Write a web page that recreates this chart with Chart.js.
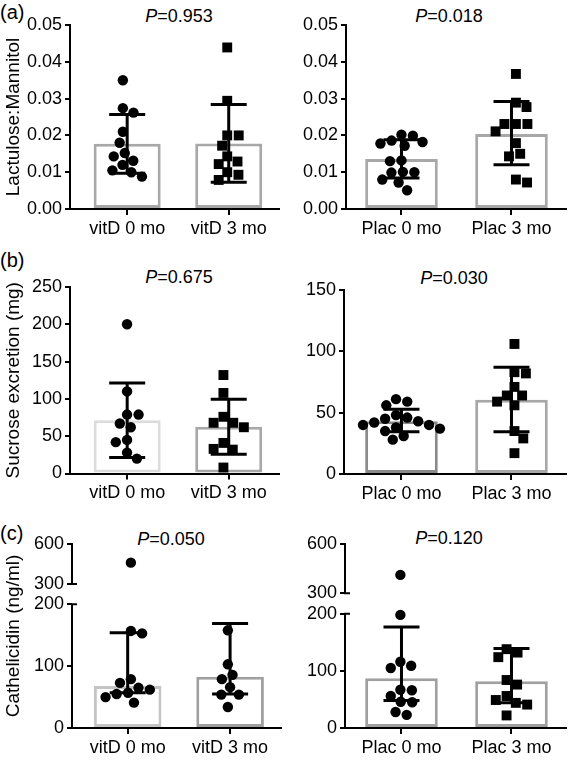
<!DOCTYPE html>
<html><head><meta charset="utf-8">
<script src="https://cdn.jsdelivr.net/npm/chart.js@4/dist/chart.umd.min.js"></script>
<style>
body{margin:0;background:#fff;width:573px;height:766px;position:relative;overflow:hidden;font-family:"Liberation Sans",Arial,sans-serif;color:#000;}
canvas{position:absolute;}
.lbl{position:absolute;font-size:20px;line-height:20px;}
.pv{position:absolute;font-size:18px;line-height:18px;transform:translate(-50%,-50%);white-space:nowrap;}
</style></head><body>
<div class="lbl" style="left:0;top:2px">(a)</div>
<div class="lbl" style="left:0;top:250px">(b)</div>
<div class="lbl" style="left:0;top:523px">(c)</div>
<div class="pv" style="left:179px;top:16px"><i>P</i>=0.953</div>
<div class="pv" style="left:449px;top:16px"><i>P</i>=0.018</div>
<div class="pv" style="left:179px;top:277px"><i>P</i>=0.675</div>
<div class="pv" style="left:454px;top:278px"><i>P</i>=0.030</div>
<div class="pv" style="left:171px;top:539px"><i>P</i>=0.050</div>
<div class="pv" style="left:449px;top:538px"><i>P</i>=0.120</div>
<canvas id="aL" width="286" height="250" style="left:0;top:0"></canvas>
<canvas id="aR" width="287" height="250" style="left:286px;top:0"></canvas>
<canvas id="bL" width="286" height="255" style="left:0;top:250px"></canvas>
<canvas id="bR" width="287" height="255" style="left:286px;top:250px"></canvas>
<canvas id="cL" width="286" height="261" style="left:0;top:505px"></canvas>
<canvas id="cR" width="287" height="261" style="left:286px;top:505px"></canvas>
<script>
// ---------- data ----------
const catsVit = ['vitD 0 mo', 'vitD 3 mo'];
const catsPlac = ['Plac 0 mo', 'Plac 3 mo'];

// (a) Lactulose:Mannitol
const aTicks = [0, 0.01, 0.02, 0.03, 0.04, 0.05];
const aVitBar = [0.0177, 0.0178];
const aVitErrLo = [0.0097, 0.0073];
const aVitErrHi = [0.0257, 0.0284];
const aVit0 = [0.0350, 0.0274, 0.0262, 0.0210, 0.0180, 0.0152, 0.0143, 0.0131, 0.0120, 0.0105, 0.0100, 0.0088];
const aVit3 = [0.0439, 0.0294, 0.0200, 0.0200, 0.0172, 0.0143, 0.0129, 0.0122, 0.0100, 0.0093, 0.0079];
const aPlacBar = [0.0136, 0.0204];
const aPlacErrLo = [0.0084, 0.0120];
const aPlacErrHi = [0.0188, 0.0292];
const aPlac0 = [0.0202, 0.0199, 0.0186, 0.0182, 0.0178, 0.0172, 0.0132, 0.0130, 0.0101, 0.0100, 0.0099, 0.0080, 0.0072, 0.0051];
const aPlac3 = [0.0367, 0.0289, 0.0277, 0.0231, 0.0231, 0.0231, 0.0211, 0.0179, 0.0150, 0.0143, 0.0080, 0.0072];

// (b) Sucrose excretion (mg)
const bVitTicks = [0, 50, 100, 150, 200, 250];
const bVitBar = [71.4, 62.7];
const bVitErrLo = [21.4, 25.9];
const bVitErrHi = [121.4, 99.6];
const bVit0 = [200, 110, 79, 79, 67, 62, 45, 42, 28, 20];
const bVit3 = [132, 108, 76, 68, 68, 62, 41, 33, 32, 8];
const bPlacTicks = [0, 50, 100, 150];
const bPlacBar = [43, 60.5];
const bPlacErrLo = [34.5, 34.5];
const bPlacErrHi = [52.7, 87];
const bPlac0 = [61, 59, 56, 48, 46, 45, 43, 42, 40, 40, 38, 37, 35, 31, 28];
const bPlac3 = [106, 83, 82, 71, 64, 64, 59, 56, 35, 29, 17];

// (c) Cathelicidin (ng/ml)
const cTicks = [0, 100, 200, 300, 600];
const cVitBar = [68, 83];
const cVitErrLo = [57, 55];
const cVitErrHi = [154, 169];
const cVit0 = [460, 157, 153, 79, 73, 65, 62, 57, 55, 50, 41];
const cVit3 = [158, 103, 86, 79, 66, 54, 54, 34];
const cPlacBar = [87, 82];
const cPlacErrLo = [48, 44];
const cPlacErrHi = [177, 139];
const cPlac0 = [412, 198, 116, 109, 105, 67, 66, 56, 46, 45, 28, 23];
const cPlac3 = [138, 132, 124, 84, 76, 56, 49, 44, 41, 22];

// ---------- library setup ----------
Chart.defaults.font.family = '"Liberation Sans", Arial, sans-serif';
Chart.defaults.color = '#000';

class BrokenScale extends Chart.LinearScale {
  getPixelForValue(v) {
    if (v === null || v === undefined || isNaN(v)) return NaN;
    const b = this.options.brk;
    let d;
    if (v <= b.low) d = (v - this.min) / (b.low - this.min) * b.lowFrac;
    else if (v >= b.high) d = b.highFrac + (v - b.high) / (this.max - b.high) * (1 - b.highFrac);
    else d = b.lowFrac + (v - b.low) / (b.high - b.low) * (b.highFrac - b.lowFrac);
    return this.getPixelForDecimal(d);
  }
}
BrokenScale.id = 'broken';
BrokenScale.defaults = Chart.LinearScale.defaults;
Chart.register(BrokenScale);

const errPlugin = {
  id: 'errbars',
  afterDatasetsDraw(chart, args, o) {
    const ctx = chart.ctx, xs = chart.scales.x, ys = chart.scales.y;
    ctx.save();
    ctx.strokeStyle = '#000'; ctx.lineWidth = 3; ctx.lineCap = 'butt';
    o.lo.forEach((lo, i) => {
      const hi = o.hi[i];
      const x = xs.getPixelForValue(i);
      const y1 = ys.getPixelForValue(lo), y2 = ys.getPixelForValue(hi);
      ctx.beginPath();
      ctx.moveTo(x, y1); ctx.lineTo(x, y2);
      ctx.moveTo(x - o.cap, y1); ctx.lineTo(x + o.cap, y1);
      ctx.moveTo(x - o.cap, y2); ctx.lineTo(x + o.cap, y2);
      ctx.stroke();
    });
    ctx.restore();
  }
};

const breakPlugin = {
  id: 'brkAxis',
  afterDraw(chart, args, o) {
    if (!o.on) return;
    const ctx = chart.ctx, ys = chart.scales.y;
    const x = chart.chartArea.left;
    ctx.save();
    ctx.strokeStyle = '#000'; ctx.lineWidth = 2;
    ctx.beginPath();
    o.segments.forEach(s => {
      ctx.moveTo(x, ys.getPixelForValue(s[0]) + 1);
      ctx.lineTo(x, ys.getPixelForValue(s[1]) - 1);
    });
    o.marks.forEach(v => {
      const y = ys.getPixelForValue(v);
      ctx.moveTo(x - 1, y); ctx.lineTo(x + 5, y);
    });
    ctx.stroke();
    ctx.restore();
  }
};

function swarm(chart, dsIndex, D) {
  const ds = chart.data.datasets[dsIndex];
  const ys = chart.scales.y, xs = chart.scales.x;
  const unit = xs.getPixelForValue(1) - xs.getPixelForValue(0);
  const center = ds.data[0].x;
  const items = ds.data.map((p, i) => ({ i, py: ys.getPixelForValue(p.y) }));
  items.sort((a, b) => a.py - b.py);
  const placed = [];
  let side = 1;
  for (const it of items) {
    const cands = [0];
    for (const p of placed) {
      const dy = Math.abs(p.py - it.py);
      if (dy < D) { const w = Math.sqrt(D * D - dy * dy); cands.push(p.px - w, p.px + w); }
    }
    cands.sort((a, b) => (Math.abs(a) - Math.abs(b)) || (side * (b - a)));
    for (const c of cands) {
      if (placed.every(p => (p.px - c) ** 2 + (p.py - it.py) ** 2 >= D * D - 0.01)) { it.px = c; break; }
    }
    if (it.px !== 0) side = -side;
    placed.push(it);
  }
  const mn = Math.min(...items.map(it => it.px)), mx = Math.max(...items.map(it => it.px));
  const shift = -(mn + mx) / 2;
  items.forEach(it => { ds.data[it.i].x = center + (it.px + shift) / unit; });
}

function panel(p) {
  const yW = p.axisX - p.cL;
  const xH = 30;
  const padTop = p.top - p.cT;
  const padRight = p.cL + p.cW - p.xEnd;
  const padBottom = p.cH - (p.bottom - p.cT) - xH;
  const unitPx = (p.c1 - p.c0);
  const xmin = -(p.c0 - p.axisX) / unitPx;
  const xmax = 1 + (p.xEnd - p.c1) / unitPx;
  const rOf = s => s === 'rect' ? 7 : 5.2;
  const cfg = {
    type: 'bar',
    data: {
      datasets: [
        { type: 'bar', data: p.bars.map((v, i) => ({ x: i, y: v })), backgroundColor: '#fff',
          borderColor: p.barColors, borderWidth: 3, borderSkipped: false,
          categoryPercentage: 1, barPercentage: 0.66, order: 3 },
        { type: 'scatter', data: p.g0.map(v => ({ x: 0, y: v })), pointStyle: p.shapes[0],
          pointRadius: rOf(p.shapes[0]), backgroundColor: '#000', borderColor: '#000', borderWidth: 0, order: 1, clip: false },
        { type: 'scatter', data: p.g1.map(v => ({ x: 1, y: v })), pointStyle: p.shapes[1],
          pointRadius: rOf(p.shapes[1]), backgroundColor: '#000', borderColor: '#000', borderWidth: 0, order: 1, clip: false }
      ]
    },
    options: {
      responsive: false, animation: false, devicePixelRatio: 1,
      layout: { padding: { left: 0, top: padTop, right: padRight, bottom: padBottom } },
      plugins: {
        legend: { display: false }, tooltip: { enabled: false },
        errbars: { lo: p.lo, hi: p.hi, cap: 18 },
        brkAxis: p.brk ? { on: true, segments: [[p.ticks[0], p.brk.low], [p.brk.high, p.ticks[p.ticks.length - 1]]], marks: [p.brk.low, p.brk.high] } : { on: false }
      },
      scales: {
        x: {
          type: 'linear', min: xmin, max: xmax, z: 1, offset: false,
          afterBuildTicks: s => { s.ticks = [{ value: 0 }, { value: 1 }]; },
          afterFit: s => { s.height = xH; },
          ticks: { callback: v => p.cats[v], font: { size: 18 }, color: '#000', padding: 3, maxRotation: 0, autoSkip: false },
          grid: { display: true, offset: false, drawOnChartArea: false, drawTicks: true, tickLength: 6, color: '#000', lineWidth: 2 },
          border: { display: true, color: '#000', width: 2 }
        },
        y: {
          type: p.brk ? 'broken' : 'linear', brk: p.brk || null, offset: false,
          min: p.ticks[0], max: p.ticks[p.ticks.length - 1], z: 1,
          afterBuildTicks: s => { s.ticks = p.ticks.map(v => ({ value: v })); },
          afterFit: s => { s.width = yW; },
          ticks: { callback: v => p.fmt(v), font: { size: 18 }, color: '#000', padding: 3, autoSkip: false },
          grid: { display: true, drawOnChartArea: false, drawTicks: true, tickLength: 5, color: '#000', lineWidth: 2 },
          border: { display: !p.brk, color: '#000', width: 2 },
          title: { display: !!p.title, text: p.title || '', font: { size: 19 }, color: '#000', padding: { top: 2, bottom: 0 } }
        }
      }
    },
    plugins: [errPlugin, breakPlugin]
  };
  const ch = new Chart(document.getElementById(p.id), cfg);
  swarm(ch, 1, 11.5);
  swarm(ch, 2, 11.5);
  ch.update('none');
  return ch;
}

const f2 = v => v.toFixed(2);
const f0 = v => String(v);
const L = { cL: 0, cW: 286, axisX: 70, c0: 128, c1: 231, xEnd: 282 };
const R = { cL: 286, cW: 287, axisX: 346, c0: 402.5, c1: 514.5, xEnd: 570 };

panel({ ...L, id: 'aL', cT: 0, cH: 250, top: 25, bottom: 209, ticks: aTicks, fmt: f2, cats: catsVit,
  bars: aVitBar, lo: aVitErrLo, hi: aVitErrHi, g0: aVit0, g1: aVit3, shapes: ['circle', 'rect'],
  barColors: ['#a8a8a8', '#a8a8a8'], title: 'Lactulose:Mannitol' });
panel({ ...R, id: 'aR', cT: 0, cH: 250, top: 25, bottom: 209, ticks: aTicks, fmt: f2, cats: catsPlac,
  bars: aPlacBar, lo: aPlacErrLo, hi: aPlacErrHi, g0: aPlac0, g1: aPlac3, shapes: ['circle', 'rect'],
  barColors: ['#a8a8a8', '#a8a8a8'] });
panel({ ...L, id: 'bL', cT: 250, cH: 255, top: 287, bottom: 473.5, ticks: bVitTicks, fmt: f0, cats: catsVit,
  bars: bVitBar, lo: bVitErrLo, hi: bVitErrHi, g0: bVit0, g1: bVit3, shapes: ['circle', 'rect'],
  barColors: ['#dcdcdc', '#a8a8a8'], title: 'Sucrose excretion (mg)' });
panel({ ...R, axisX: 344, id: 'bR', cT: 250, cH: 255, top: 290, bottom: 474, ticks: bPlacTicks, fmt: f0, cats: catsPlac,
  bars: bPlacBar, lo: bPlacErrLo, hi: bPlacErrHi, g0: bPlac0, g1: bPlac3, shapes: ['circle', 'rect'],
  barColors: ['#8a8a8a', '#a8a8a8'] });
panel({ ...L, axisX: 72, id: 'cL', cT: 505, cH: 261, top: 544, bottom: 728, ticks: cTicks, fmt: f0, cats: catsVit,
  bars: cVitBar, lo: cVitErrLo, hi: cVitErrHi, g0: cVit0, g1: cVit3, shapes: ['circle', 'circle'],
  barColors: ['#c4c4c4', '#a0a0a0'], title: 'Cathelicidin (ng/ml)',
  brk: { low: 200, high: 300, lowFrac: 0.672, highFrac: 0.783 } });
panel({ ...R, axisX: 345, id: 'cR', cT: 505, cH: 261, top: 544, bottom: 728, ticks: cTicks, fmt: f0, cats: catsPlac,
  bars: cPlacBar, lo: cPlacErrLo, hi: cPlacErrHi, g0: cPlac0, g1: cPlac3, shapes: ['circle', 'rect'],
  barColors: ['#a0a0a0', '#a0a0a0'],
  brk: { low: 200, high: 300, lowFrac: 0.621, highFrac: 0.732 } });
</script>
</body></html>
